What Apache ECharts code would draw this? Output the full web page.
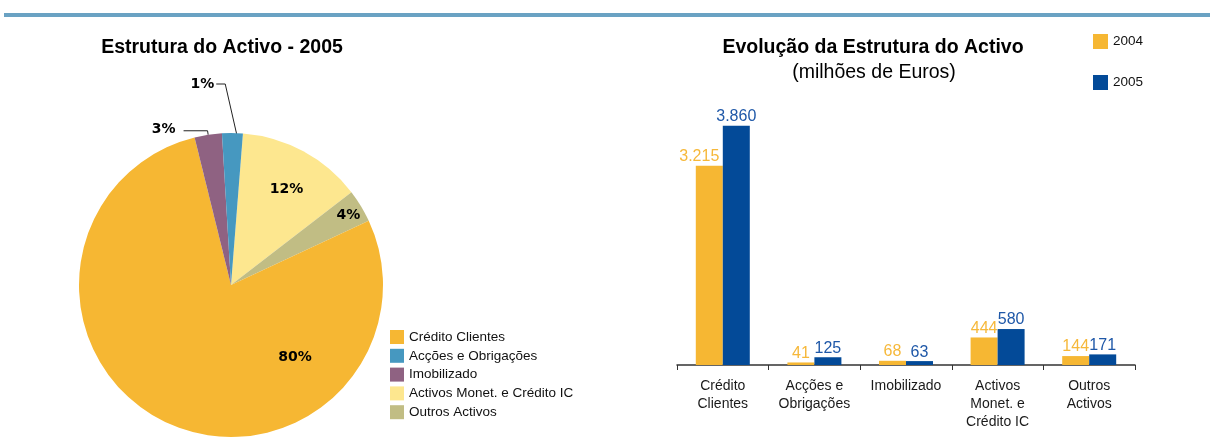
<!DOCTYPE html>
<html>
<head>
<meta charset="utf-8">
<script src="https://cdn.jsdelivr.net/npm/echarts@6/dist/echarts.min.js"></script>
<style>
  html, body { margin: 0; padding: 0; background: #fff; }
  #chart { width: 1210px; height: 446px; }
</style>
</head>
<body>
<div id="chart"></div>
<script>
// pie (2005 structure), slices listed clockwise from the top
const pieNames = ['Activos Monet. e Crédito IC', 'Outros Activos', 'Crédito Clientes', 'Imobilizado', 'Acções e Obrigações'];
const pieShares = [13.3, 3.5, 78.1, 2.9, 2.2];
const pieLabels = ['12%', '4%', '80%', '3%', '1%'];
const pieLegend = ['Crédito Clientes', 'Acções e Obrigações', 'Imobilizado', 'Activos Monet. e Crédito IC', 'Outros Activos'];

// bars (milhões de Euros)
const categories = ['Crédito\nClientes', 'Acções e\nObrigações', 'Imobilizado', 'Activos\nMonet. e\nCrédito IC', 'Outros\nActivos'];
const values2004 = [3215, 41, 68, 444, 144];
const values2005 = [3860, 125, 63, 580, 171];
const labels2004 = ['3.215', '41', '68', '444', '144'];
const labels2005 = ['3.860', '125', '63', '580', '171'];

const colorsPie = {
  'Crédito Clientes': '#f6b733',
  'Acções e Obrigações': '#4698c0',
  'Imobilizado': '#8f6282',
  'Activos Monet. e Crédito IC': '#fde78f',
  'Outros Activos': '#c1bd84'
};
const orange = '#f6b733';
const blue = '#034a98';
const font = '"Liberation Sans", Arial, sans-serif';

// label nudges for the pie labels
const pieLabelShift = [[18, -26], [50, -29], [98, 1], [-3, -1], [-71, -45]];

const chart = echarts.init(document.getElementById('chart'));

const option = {
  animation: false,
  graphic: [
    { type: 'rect', shape: { x: 4, y: 13, width: 1206, height: 4 }, style: { fill: '#6aa2c3' } },
    { type: 'text', x: 222, y: 48, style: { text: 'Estrutura do Activo - 2005', textAlign: 'center', textVerticalAlign: 'middle', font: 'bold 19.5px ' + font, fill: '#000' } },
    { type: 'text', x: 873, y: 48, style: { text: 'Evolução da Estrutura do Activo', textAlign: 'center', textVerticalAlign: 'middle', font: 'bold 19.5px ' + font, fill: '#000' } },
    { type: 'text', x: 874, y: 73, style: { text: '(milhões de Euros)', textAlign: 'center', textVerticalAlign: 'middle', font: '19.5px ' + font, fill: '#000' } }
  ],
  legend: [
    {
      data: pieLegend,
      orient: 'vertical',
      left: 385,
      top: 325,
      itemWidth: 14,
      itemHeight: 14,
      itemGap: 4.8,
      icon: 'rect',
      selectedMode: false,
      textStyle: { fontSize: 13.5, color: '#111', fontFamily: font }
    },
    {
      data: ['2004', '2005'],
      orient: 'vertical',
      left: 1088,
      top: 29,
      itemWidth: 15,
      itemHeight: 15,
      itemGap: 26,
      icon: 'rect',
      selectedMode: false,
      textStyle: { fontSize: 13.5, color: '#111', fontFamily: font }
    }
  ],
  grid: { left: 677, right: 75, top: 117, bottom: 81 },
  xAxis: {
    type: 'category',
    data: categories,
    axisLine: { lineStyle: { color: '#333', width: 1.5 } },
    axisTick: { show: true, length: 5, lineStyle: { color: '#333' } },
    axisLabel: { fontSize: 14, lineHeight: 18, color: '#1a1a1a', fontFamily: font, margin: 12, interval: 0 }
  },
  yAxis: { type: 'value', min: 0, max: 4000, show: false },
  series: [
    {
      type: 'pie',
      center: [231, 285],
      radius: 152,
      startAngle: 85.5,
      clockwise: true,
      legendHoverLink: false,
      data: pieNames.map((n, i) => ({
        name: n,
        value: pieShares[i],
        itemStyle: { color: colorsPie[n] },
        label: { position: i < 3 ? 'inside' : 'outside' },
        labelLine: { show: i >= 3 }
      })),
      label: {
        formatter: p => pieLabels[p.dataIndex],
        fontSize: 14,
        fontWeight: 'bold',
        color: '#000',
        fontFamily: '"DejaVu Sans", Verdana, sans-serif'
      },
      labelLine: { length: 4, length2: 24, lineStyle: { color: '#222', width: 1 } },
      labelLayout: function (p) {
        const s = pieLabelShift[p.dataIndex];
        if (p.dataIndex === 4) {
          // this label sits left of its slice, line runs out from its right side
          const cx = p.labelRect.x + p.labelRect.width / 2 + s[0];
          const cy = p.labelRect.y + p.labelRect.height / 2 + s[1];
          const rx = cx + p.labelRect.width / 2 + 2;
          return {
            x: cx,
            y: cy,
            align: 'center',
            verticalAlign: 'middle',
            labelLinePoints: [
              [rx, cy],
              [rx + 9, cy],
              [p.rect.x + p.rect.width * 0.7, p.rect.y + 1]
            ]
          };
        }
        return { dx: s[0], dy: s[1] };
      },
      itemStyle: { borderWidth: 0 },
      emphasis: { disabled: true }
    },
    {
      name: '2004',
      type: 'bar',
      data: values2004.map((v, i) => ({
        value: v,
        label: i === 0 ? { offset: [-10, 0] } : {}
      })),
      barWidth: 27,
      barGap: '0%',
      itemStyle: { color: orange },
      label: {
        show: true,
        position: 'top',
        distance: 1,
        formatter: p => labels2004[p.dataIndex],
        fontSize: 16,
        color: '#f6b83a',
        fontFamily: font
      }
    },
    {
      name: '2005',
      type: 'bar',
      data: values2005,
      barWidth: 27,
      itemStyle: { color: blue },
      label: {
        show: true,
        position: 'top',
        distance: 1,
        formatter: p => labels2005[p.dataIndex],
        fontSize: 16,
        color: '#1f58a8',
        fontFamily: font
      }
    }
  ]
};

chart.setOption(option);
</script>
</body>
</html>
